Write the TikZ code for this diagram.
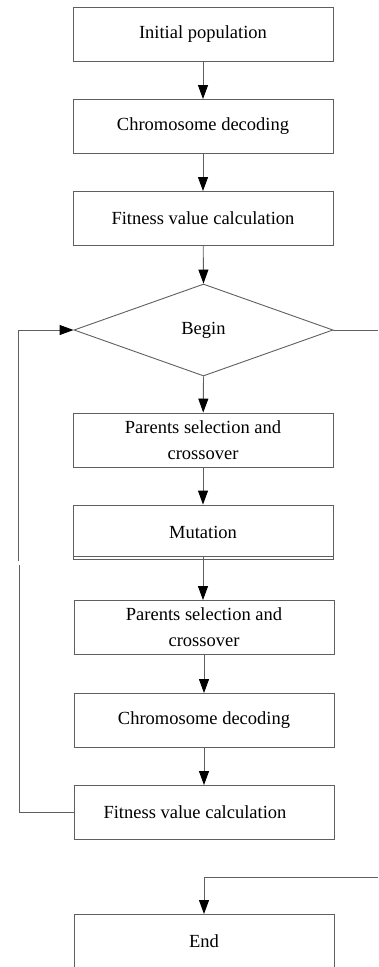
\documentclass[tikz,border=0pt]{standalone}
\usepackage{fontspec}
\setmainfont{Liberation Serif}
\usetikzlibrary{arrows.meta,shapes.geometric}
\definecolor{linegray}{RGB}{95,95,95}
\tikzset{
  every picture/.style={x=1pt,y=-1pt},
  boxnode/.style={draw=linegray,line width=0.9pt,minimum width=260pt,minimum height=54pt,align=center,font=\fontsize{18.5}{26}\selectfont,inner sep=0pt},
  decnode/.style={draw=linegray,line width=0.9pt,diamond,aspect=2.82,minimum width=259pt,minimum height=92pt,inner sep=0pt,font=\fontsize{18.5}{26}\selectfont},
  conn/.style={draw=linegray,line width=0.9pt},
  arr/.style={conn,-{Triangle[length=14pt,width=10pt,fill=black,color=black]}}
}
\begin{document}
\begin{tikzpicture}
\useasboundingbox (0,0) rectangle (378,967);
\clip (0,0) rectangle (378,967);
\node[boxnode] (b1) at (203,34) {Initial population};
\node[boxnode] (b2) at (203,126.5) {Chromosome decoding};
\node[boxnode] (b3) at (203,218.5) {Fitness value calculation};
\node[decnode] (d) at (203.5,330) {Begin};
\node[boxnode] (b4) at (203,440) {Parents selection and\\crossover};
\node[boxnode] (b5) at (203,532) {Mutation};
\node[boxnode] (b6) at (204,627.5) {Parents selection and\\crossover};
\node[boxnode] (b7) at (204,720.5) {Chromosome decoding};
\node[boxnode] (b8) at (204,812.5) {\hspace*{-18pt}Fitness value calculation};
\node[boxnode,minimum height=58pt,anchor=north] (b9) at (204,914) {};
\node[font=\fontsize{18.5}{26}\selectfont] (endtxt) at (204,941) {End};
\coordinate (m2) at ([yshift=3pt]b5.south);
\coordinate (m2l) at ([yshift=3pt]b5.south west);
\coordinate (m2r) at ([yshift=3pt]b5.south east);
\coordinate (rgt) at (378,330);
\coordinate (l1) at (18,330);
\coordinate (l2) at (18,561);
\coordinate (l3) at (19,565);
\coordinate (l4) at (19,812.5);
\coordinate (e1) at (378,877);
\coordinate (e2) at (204,877);
\draw[arr] (b1) -- (b2);
\draw[arr] (b2) -- (b3);
\draw[arr] (b3) -- (d.north);
\draw[arr] (d.south) -- (b4);
\draw[arr] (b4) -- (b5);
\draw[conn] (m2l) -- (m2r);
\draw[arr] (m2) -- (b6.north -| m2);
\draw[arr] (b6) -- (b7);
\draw[arr] (b7) -- (b8);
\draw[conn] (d.east) -- (rgt);
\draw[arr] (l2) -- (l1) -- (d.west);
\draw[conn] (b8.west) -- (l4) -- (l3);
\draw[arr] (e1) -- (e2) -- (b9.north);
\end{tikzpicture}
\end{document}
